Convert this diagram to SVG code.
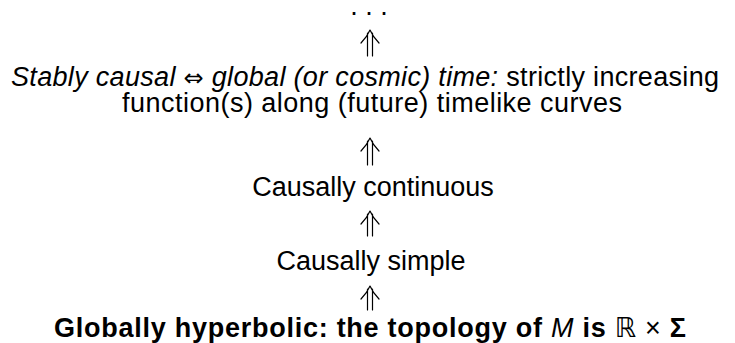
<svg xmlns="http://www.w3.org/2000/svg" width="735" height="343" viewBox="0 0 735 343">
<style>
text{font-family:"Liberation Sans","DejaVu Sans",sans-serif;font-size:27px;fill:#000;text-anchor:middle}
.it{font-style:italic}
.b{font-weight:bold}
.sym{font-family:"DejaVu Sans",sans-serif;font-size:24px}
.arr{fill:none;stroke:#000;stroke-width:1.2;stroke-linecap:round;stroke-linejoin:round}
</style>
<rect width="735" height="343" fill="#fff"/>
<g id="dots"><text x="369" y="15">. . .</text></g>
<g id="stably-causal">
<text x="365" y="86" textLength="708" lengthAdjust="spacing"><tspan class="it">Stably causal</tspan> <tspan class="sym">⇔</tspan> <tspan class="it">global (or cosmic) time:</tspan> strictly increasing</text>
<text x="372" y="112" textLength="500" lengthAdjust="spacing">function(s) along (future) timelike curves</text>
</g>
<g id="causally-continuous"><text x="373" y="196">Causally continuous</text></g>
<g id="causally-simple"><text x="371" y="270">Causally simple</text></g>
<g id="globally-hyperbolic"><text x="370" y="337" textLength="632" lengthAdjust="spacing"><tspan class="b">Globally hyperbolic: the topology of </tspan><tspan class="it">M</tspan><tspan class="b"> is </tspan>ℝ × <tspan class="b">Σ</tspan></text></g>
<g id="connectors">
<path class="arr" d="M361,43 Q367,37 370,30 Q373,37 379,43 M367.5,33 V56 M372.5,33 V56"/>
<path class="arr" d="M361,151 Q367,145 370,138 Q373,145 379,151 M367.5,141 V165 M372.5,141 V165"/>
<path class="arr" d="M361,224 Q367,218 370,211 Q373,218 379,224 M367.5,214 V236 M372.5,214 V236"/>
<path class="arr" d="M361,299 Q367,293 370,286 Q373,293 379,299 M367.5,289 V310 M372.5,289 V310"/>
</g>
</svg>
